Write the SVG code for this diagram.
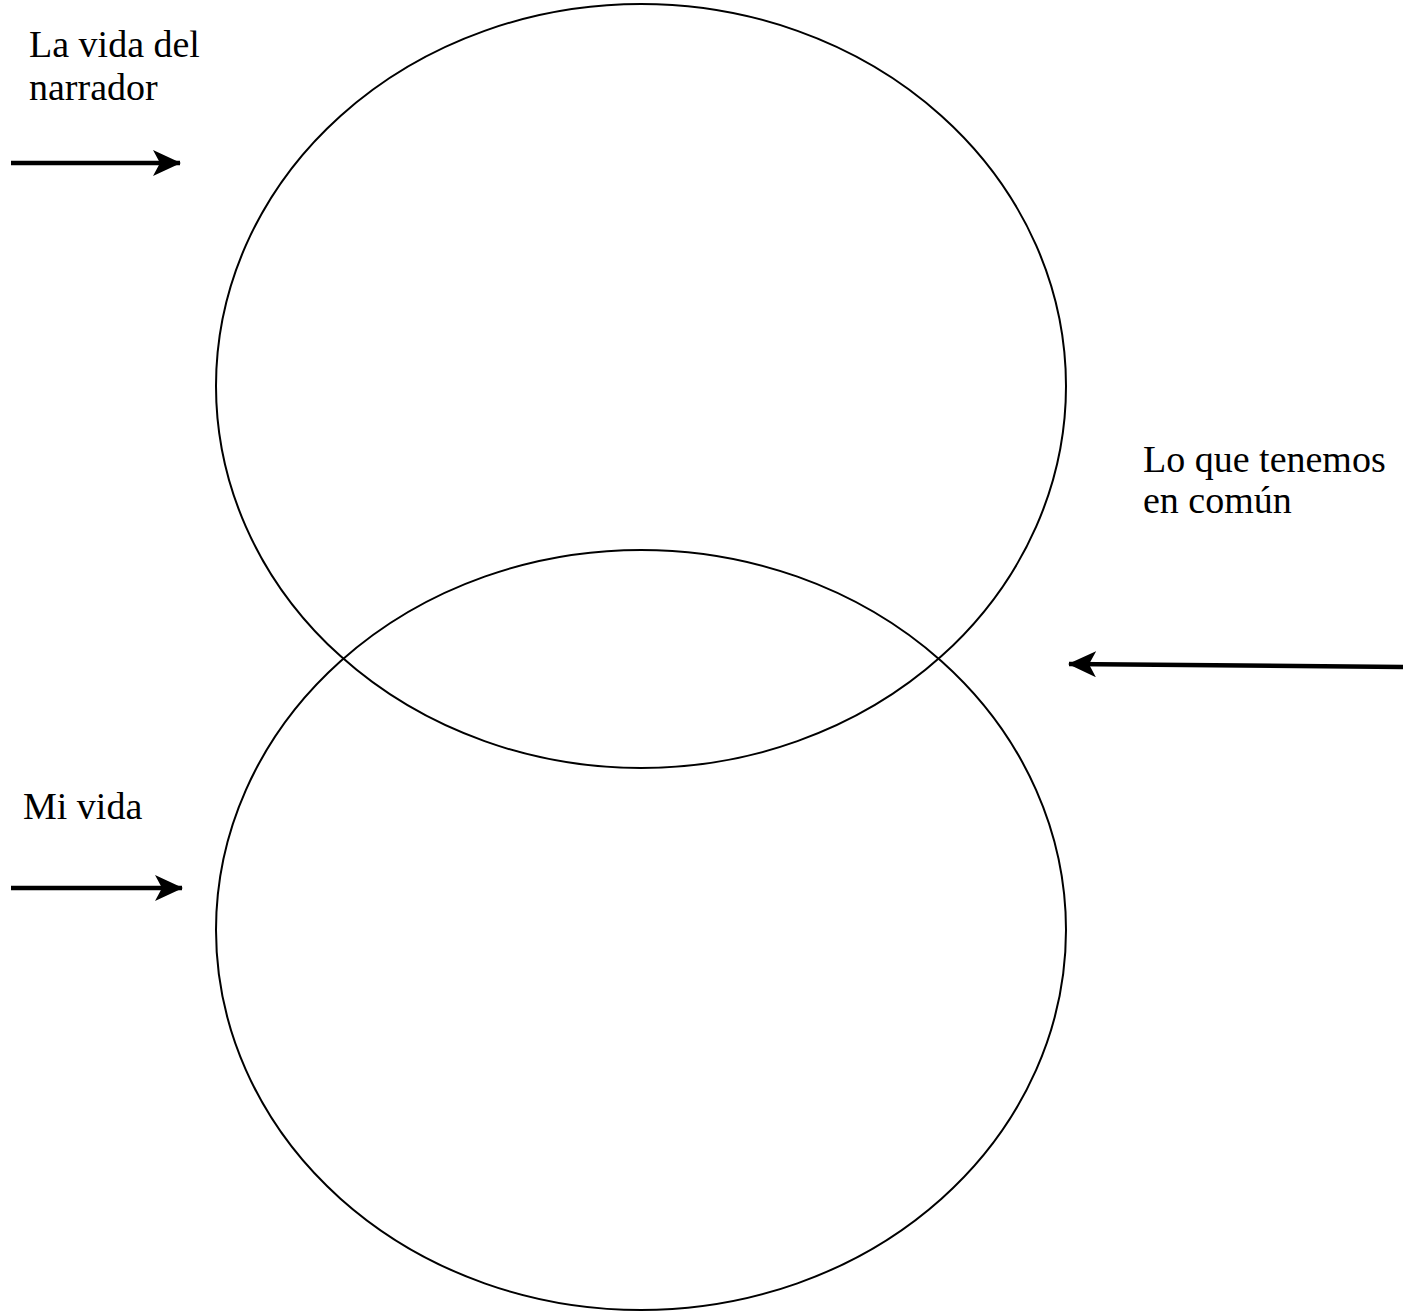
<svg xmlns="http://www.w3.org/2000/svg" width="1413" height="1312" viewBox="0 0 1413 1312">
<defs>
<style>
.ov{fill:none;stroke:#000;stroke-width:2}
.lb{font-family:"Liberation Serif","Times New Roman",serif;font-size:38px;fill:#000}
.ar{stroke:#000;stroke-width:4.5;fill:none;marker-end:url(#ah)}
</style>
<marker id="ah" markerUnits="userSpaceOnUse" viewBox="0 0 28 26" refX="27" refY="13" markerWidth="28" markerHeight="26" orient="auto">
<path d="M0,0 L28,13 L0,26 L7,13 Z" fill="#000"/>
</marker>
</defs>
<rect width="1413" height="1312" fill="#fff"/>
<g id="circle-narrador"><ellipse class="ov" cx="641" cy="386" rx="425" ry="382"/></g>
<g id="circle-mi-vida"><ellipse class="ov" cx="641" cy="930" rx="425" ry="380"/></g>
<g id="label-narrador"><text class="lb" x="29" y="57">La vida del</text><text class="lb" x="29" y="100">narrador</text></g>
<g id="label-comun"><text class="lb" x="1143" y="472">Lo que tenemos</text><text class="lb" x="1143" y="513">en común</text></g>
<g id="label-mi-vida"><text class="lb" x="23" y="819">Mi vida</text></g>
<g id="connectors">
<line class="ar" x1="11" y1="163" x2="180" y2="163"/>
<line class="ar" x1="11" y1="888" x2="182" y2="888"/>
<line class="ar" x1="1403" y1="667" x2="1069" y2="664"/>
</g>
</svg>
